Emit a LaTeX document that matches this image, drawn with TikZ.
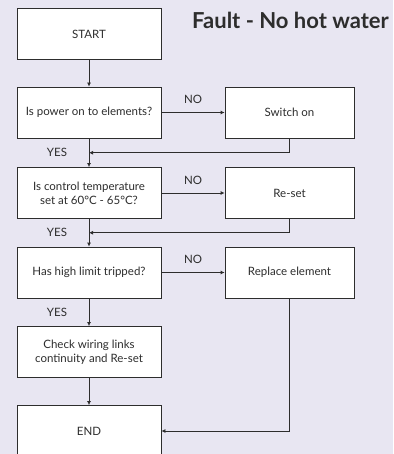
\documentclass[tikz,border=0pt]{standalone}
\usepackage{fontspec}
\setmainfont{Lato}
\usetikzlibrary{arrows.meta}
\usetikzlibrary{calc}
\definecolor{bgpaper}{RGB}{232,230,242}
\definecolor{lineink}{RGB}{45,45,45}

\begin{document}
\begin{tikzpicture}[x=1pt, y=-1pt, font=\fontsize{11.5}{14}\selectfont, text=lineink]
    \tikzset{stepbox/.style = {shape=rectangle, draw=lineink, fill=white, line width=0.8pt, minimum width=144pt, minimum height=51pt, align=center, inner sep=2pt}}
    \tikzset{fixbox/.style = {stepbox, minimum width=129pt}}
    \tikzset{flow/.style = {-{Latex[length=4pt,width=4pt]}, draw=lineink, line width=0.8pt}}
    \tikzset{answer/.style = {inner sep=0pt}}

    % background
    \fill[bgpaper] (0,0) rectangle (393,454);
    \useasboundingbox (0,0) rectangle (393,454);

    % title
    \node[font=\fontsize{22}{26}\selectfont\bfseries, anchor=base west, inner sep=0pt] (title) at (192,29) {Fault - No hot water};

    % boxes
    \node[stepbox] (start) at (89,34) {START};
    \node[stepbox] (q1) at (89,112.5) {Is power on to elements?};
    \node[fixbox] (sw) at (289.5,112.5) {Switch on};
    \node[stepbox] (q2) at (89,193) {Is control temperature\\ set at 60\textdegree C - 65\textdegree C?};
    \node[fixbox] (rst) at (289.5,193) {Re-set};
    \node[stepbox] (q3) at (89,272.5) {Has high limit tripped?};
    \node[fixbox] (rep) at (289.5,272.5) {Replace element};
    \node[stepbox] (chk) at (89,352) {Check wiring links\\ continuity and Re-set};
    \node[stepbox] (end) at (89,431) {END};

    % joins on the main line
    \coordinate (j1) at ($(q1.south)!0.5!(q2.north)$);
    \coordinate (j2) at ($(q2.south)!0.5!(q3.north)$);
    \coordinate (j3) at ($(q3.south)!0.5!(chk.north)$);

    % edges
    \draw[flow] (start) -- (q1);
    \draw[flow] (q1) -- (sw) node[midway, above=5pt] {NO};
    \draw[flow] (q1) -- (q2);
    \draw[flow] (sw.south) |- (j1);
    \draw[flow] (q2) -- (rst) node[midway, above=5pt] {NO};
    \draw[flow] (q2) -- (q3);
    \draw[flow] (rst.south) |- (j2);
    \draw[flow] (q3) -- (rep) node[midway, above=5pt] {NO};
    \draw[flow] (q3) -- (chk);
    \draw[flow] (chk) -- (end);
    \draw[flow] (rep.south) |- (end.east);

    % answers
    \node[answer] (yes1) at ($(j1)+(-32,0)$) {YES};
    \node[answer] (yes2) at ($(j2)+(-32,0)$) {YES};
    \node[answer] (yes3) at ($(j3)+(-32,0)$) {YES};
\end{tikzpicture}
\end{document}
